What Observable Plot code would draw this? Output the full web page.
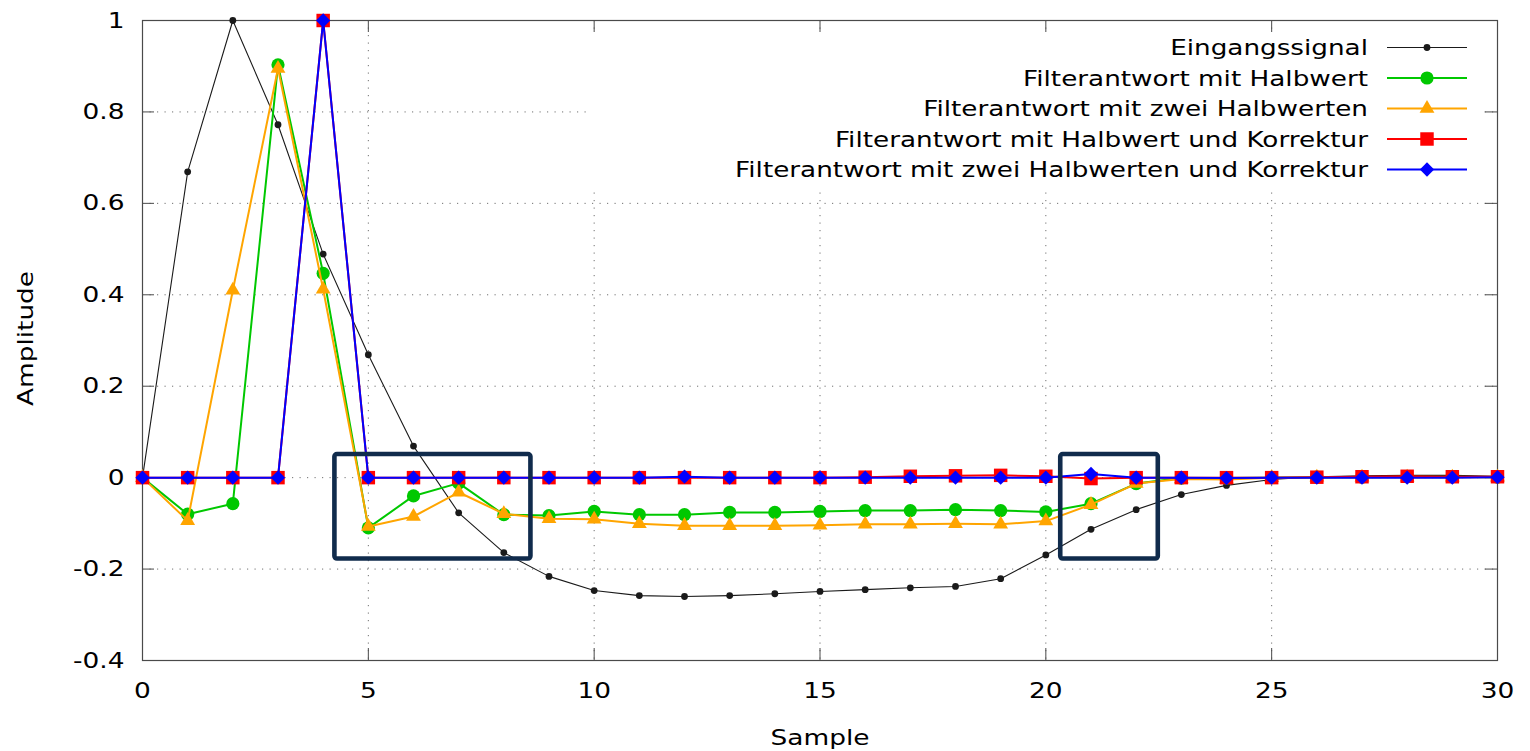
<!DOCTYPE html>
<html><head><meta charset="utf-8">
<script src="https://cdn.jsdelivr.net/npm/d3@7"></script>
<script src="https://cdn.jsdelivr.net/npm/@observablehq/plot@0.6"></script>
<style>
html,body{margin:0;padding:0;background:#fff;}
#wrap{position:relative;width:1530px;height:751px;overflow:hidden;}
#wrap svg{display:block;}
</style></head><body><div id="wrap"></div>
<script>
// ---- data ----
const samples = [0,1,2,3,4,5,6,7,8,9,10,11,12,13,14,15,16,17,18,19,20,21,22,23,24,25,26,27,28,29,30];
const eingangssignal = [0,0.669,1.0,0.772,0.489,0.269,0.069,-0.077,-0.164,-0.216,-0.247,-0.258,-0.260,-0.258,-0.254,-0.249,-0.245,-0.241,-0.238,-0.221,-0.169,-0.113,-0.070,-0.037,-0.017,-0.004,0.002,0.004,0.005,0.005,0.003];
const halbwert = [0,-0.080,-0.057,0.903,0.447,-0.110,-0.040,-0.012,-0.081,-0.083,-0.074,-0.081,-0.081,-0.076,-0.076,-0.074,-0.072,-0.072,-0.070,-0.072,-0.075,-0.057,-0.013,-0.001,-0.001,0,0.001,0.001,0.002,0.002,0.001];
const zweiHalbwerte = [0,-0.094,0.410,0.895,0.412,-0.107,-0.085,-0.032,-0.079,-0.090,-0.091,-0.101,-0.105,-0.105,-0.105,-0.104,-0.102,-0.102,-0.101,-0.102,-0.095,-0.059,-0.013,-0.003,-0.004,0,0.001,0.001,0.001,0.001,0.001];
const halbwertKorrektur = [0,0,0,0,1.0,0,0,0,0,0,0,0,0,0,0,0,0.001,0.003,0.004,0.005,0.003,-0.002,0,0,0,0,0.001,0.002,0.003,0.002,0.002];
const zweiHalbwerteKorrektur = [0,0,0,0,1.0,0,0,0,0,0,0,0,0.002,0,0,0,0,0,0,0,0,0.008,0,0,-0.001,0,0,0,0,0,0.001];
const seriesNames = ["Eingangssignal","Filterantwort mit Halbwert","Filterantwort mit zwei Halbwerten","Filterantwort mit Halbwert und Korrektur","Filterantwort mit zwei Halbwerten und Korrektur"];
const xTicks = [0,5,10,15,20,25,30];
const xTickLabels = ["0","5","10","15","20","25","30"];
const yTicks = [-0.4,-0.2,0,0.2,0.4,0.6,0.8,1];
const yTickLabels = ["-0.4","-0.2","0","0.2","0.4","0.6","0.8","1"];
const highlightX1 = [4.26, 20.33];
const highlightX2 = [8.60, 22.49];
const highlightY1 = [-0.178, -0.178];
const highlightY2 = [0.0505, 0.0505];

// ---- styles ----
const seriesValues = [eingangssignal, halbwert, zweiHalbwerte, halbwertKorrektur, zweiHalbwerteKorrektur];
const styles = [
  {color:"#1a1a1a", width:1.1, symbol:"circle", r:3.4, rotate:0},
  {color:"#00c800", width:2, symbol:"circle", r:6.6, rotate:0},
  {color:"#ffa500", width:2, symbol:"triangle", r:5.5, rotate:0},
  {color:"#ff0000", width:2, symbol:"square", r:7.6, rotate:0},
  {color:"#0000ff", width:2, symbol:"square", r:5.7, rotate:45}
];

const W=1530, H=751, mL=142, mR=33, mT=20, mB=91;
const pw=W-mL-mR, ph=H-mT-mB;
const gridStyle={stroke:"#707070", strokeOpacity:1, strokeWidth:1, strokeDasharray:"1.2,6.3"};
const axisColor="#4a4a4a";

const marks = [
  Plot.gridX(xTicks, gridStyle),
  Plot.gridY(yTicks, gridStyle),
  Plot.tickY(yTicks, {y:d=>d, insetRight:pw-12, stroke:axisColor}),
  Plot.tickY(yTicks, {y:d=>d, insetLeft:pw-12, stroke:axisColor}),
  Plot.tickX(xTicks, {x:d=>d, insetTop:ph-12, stroke:axisColor}),
  Plot.tickX(xTicks, {x:d=>d, insetBottom:ph-12, stroke:axisColor}),
  Plot.frame({stroke:axisColor, strokeWidth:1.2}),
  Plot.axisX(xTicks, {tickSize:0, tickPadding:22, label:null, fontSize:22, tickFormat:d=>xTickLabels[xTicks.indexOf(d)]}),
  Plot.axisY(yTicks, {tickSize:0, tickPadding:18, label:null, fontSize:22, tickFormat:d=>yTickLabels[yTicks.indexOf(d)]}),
  Plot.text(["Sample"], {frameAnchor:"bottom", textAnchor:"middle", lineAnchor:"middle", dy:77, fontSize:22, fill:"#000"}),
  Plot.text(["Amplitude"], {frameAnchor:"left", textAnchor:"middle", lineAnchor:"middle", dx:-117, dy:-2, rotate:-90, fontSize:22, fill:"#000"})
];
seriesValues.forEach((vals, k) => {
  const st = styles[k];
  const data = samples.map((s,i)=>({x:s, y:vals[i]}));
  marks.push(Plot.line(data, {x:"x", y:"y", stroke:st.color, strokeWidth:st.width}));
  marks.push(Plot.dot(data, {x:"x", y:"y", r:st.r, symbol:st.symbol, fill:st.color, stroke:"none", rotate:st.rotate}));
});
const boxes = highlightX1.map((x1,i)=>({x1, x2:highlightX2[i], y1:highlightY1[i], y2:highlightY2[i]}));
marks.push(Plot.rect(boxes, {x1:"x1", x2:"x2", y1:"y1", y2:"y2", fill:"none", stroke:"#102b4c", strokeWidth:4.6, rx:2.5}));

const chart = Plot.plot({
  width:W, height:H, marginLeft:mL, marginRight:mR, marginTop:mT, marginBottom:mB,
  x:{domain:[0,30]}, y:{domain:[-0.4,1]},
  style:{fontFamily:"'DejaVu Sans', sans-serif", fontSize:"22px", color:"#000", background:"white", overflow:"visible"},
  marks
});
chart.querySelectorAll("text").forEach(t=>{
  const tr=t.getAttribute("transform")||"";
  t.setAttribute("transform", tr+" scale(1.2,1)");
});
const wrap=document.getElementById("wrap");
wrap.appendChild(chart);

// ---- legend (overlay inside plot area) ----
const leg = d3.create("svg").attr("width",W).attr("height",H)
  .style("position","absolute").style("left","0px").style("top","0px")
  .style("font-family","'DejaVu Sans', sans-serif");
leg.append("rect").attr("x",589).attr("y",32).attr("width",895).attr("height",155).attr("fill","white");
const rowY=[47.5,78,108.5,139,169.5];
const symMap={circle:d3.symbolCircle, triangle:d3.symbolTriangle, square:d3.symbolSquare};
seriesNames.forEach((name,i)=>{
  const st=styles[i], y=rowY[i];
  leg.append("text").attr("transform",`translate(1368,${y}) scale(1.25,1)`)
    .attr("text-anchor","end").attr("dy","0.364em").attr("font-size",21).attr("fill","#000").text(name);
  leg.append("line").attr("x1",1387).attr("x2",1467).attr("y1",y).attr("y2",y)
    .attr("stroke",st.color).attr("stroke-width",st.width);
  leg.append("path").attr("d", d3.symbol(symMap[st.symbol], st.r*st.r*Math.PI)())
    .attr("transform",`translate(1427,${y}) rotate(${st.rotate})`).attr("fill",st.color);
});
wrap.appendChild(leg.node());
</script>
</body></html>
